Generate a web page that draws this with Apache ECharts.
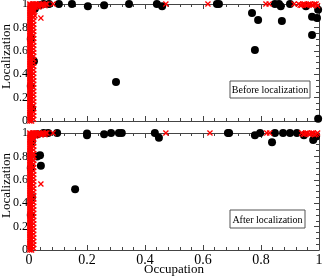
<!DOCTYPE html>
<html><head><meta charset="utf-8">
<script src="https://cdn.jsdelivr.net/npm/echarts@6/dist/echarts.min.js"></script>
<style>html,body{margin:0;padding:0;background:#fff}#c{width:323px;height:276px}</style>
</head><body><div id="c"></div>
<script>
// ---- data ----
const xTicks = ["0","0.2","0.4","0.6","0.8","1"];
const yTicks = ["0","0.2","0.4","0.6","0.8","1"];
const panelLabels = ["Before localization","After localization"];
const xTitle = "Occupation";
const yTitle = "Localization";

const beforeBlack = [
  [0.069,1],[0.103,1],[0.148,1],[0.203,0.98],[0.259,0.99],[0.345,1],[0.441,1],[0.459,0.98],
  [0.648,1],[0.655,1],[0.769,0.923],[0.79,0.863],[0.779,0.607],[0.848,1],[0.862,1],[0.868,0.98],
  [0.872,0.855],[0.90,1],[0.955,0.98],[0.976,0.89],[0.993,0.88],[0.997,0.95],[0.976,0.735],[0.997,0.02],
  [0.017,0.51],[0.30,0.333],[0.01,0.11],[0.02,0.96],[0.036,0.99],[0.05,1],[0.006,0.3],[0.006,0.7]
];
// dense band of red crosses along occupation ~ 0 (shared y readings, three columns)
const bandY = [0.00,0.015,0.03,0.045,0.06,0.075,0.09,0.105,0.12,0.135,0.15,0.165,0.18,0.195,0.21,0.225,0.24,0.255,0.27,0.285,0.30,0.315,0.33,0.345,0.36,0.375,0.39,0.405,0.42,0.435,0.45,0.465,0.48,0.495,0.51,0.525,0.54,0.555,0.57,0.585,0.60,0.615,0.63,0.645,0.66,0.675,0.69,0.705,0.72,0.735,0.75,0.765,0.78,0.795,0.81,0.825,0.84,0.855,0.87,0.885,0.90,0.915,0.93,0.945,0.96,0.975,0.99,1.00];
const bandX1 = 0.003, bandX2 = 0.009, bandX3 = 0.016;
const beforeRedTop = [
  [0.012,1],[0.018,0.985],[0.024,1],[0.030,0.985],[0.036,1],[0.042,0.985],[0.048,1],[0.055,0.985],[0.062,1],
  [0.015,0.995],[0.021,1],[0.027,0.995],[0.033,0.99],[0.039,0.995],[0.045,0.99],[0.051,0.995],[0.058,1],
  [0.015,0.97],[0.022,0.975],[0.028,0.98],[0.034,0.975],[0.012,0.95],[0.016,0.93],[0.02,0.90],[0.041,0.88],[0.083,1],
  [0.472,1],[0.617,1],[0.817,1],[0.828,1],[0.914,1],
  [0.93,1],[0.94,0.99],[0.95,1],[0.96,0.99],[0.97,1],[0.98,0.99],[0.99,1],[0.995,0.985],[0.945,1],[0.965,1],[0.985,1],[0.955,0.99],[0.975,0.99],[0.935,0.99]
];
const afterBlack = [
  [0.066,1],[0.097,1],[0.2,0.98],[0.2,0.995],[0.259,0.99],[0.283,1],[0.31,1],[0.32,1],[0.434,1],[0.448,0.96],
  [0.038,0.81],[0.028,0.80],[0.041,0.72],[0.159,0.52],[0.01,0.45],[0.01,0.93],[0.03,0.99],[0.05,1],
  [0.686,1],[0.69,1],[0.779,0.98],[0.797,1],[0.838,0.92],[0.848,1],[0.876,1],[0.90,1],[0.924,1],[0.948,0.98],[0.98,0.94],[0.99,0.97],
  [0.006,0.3],[0.006,0.7]
];
const afterRedTop = [
  [0.012,1],[0.018,0.985],[0.024,1],[0.030,0.985],[0.036,1],[0.042,0.985],[0.048,1],[0.055,0.985],[0.062,1],
  [0.015,0.995],[0.021,1],[0.027,0.995],[0.033,0.99],[0.039,0.995],[0.045,0.99],[0.051,0.995],[0.058,1],
  [0.015,0.97],[0.022,0.975],[0.028,0.98],[0.012,0.95],[0.016,0.8],[0.041,0.564],[0.083,1],
  [0.472,1],[0.624,1],[0.82,1],[0.83,1],
  [0.94,1],[0.95,0.99],[0.96,1],[0.97,0.99],[0.98,1],[0.99,0.99],[0.995,1],[0.955,1],[0.975,1],[0.985,0.985],[0.945,0.99],[0.965,0.99]
];

// ---- chart ----
const FONT = "Liberation Serif";
const AX = '#444';
const xSym = 'path://M0,1.5L1.5,0L5,3.5L8.5,0L10,1.5L6.5,5L10,8.5L8.5,10L5,6.5L1.5,10L0,8.5L3.5,5Z';
function band(ys, x1, x2, x3){ const out=[]; ys.forEach((y,i)=>{ out.push([x1,y]); out.push([i%2?x3:x2,y]); }); return out; }
function fmt(v){ const s = String(Math.round(v*10)/10); return xTicks.indexOf(s) >= 0 ? s : ''; }
function fmtY(v){ const s = String(Math.round(v*10)/10); return yTicks.indexOf(s) >= 0 ? s : ''; }

const grids = [
  {left:29, right:4, top:4, height:117, containLabel:false, outerBoundsMode:'none'},
  {left:29, right:4, top:133, height:117, containLabel:false, outerBoundsMode:'none'}
];
function xAx(gi, pos, labels){
  return {type:'value', gridIndex:gi, position:pos, min:0, max:1, interval:0.2,
    axisLine:{show:true, onZero:false, lineStyle:{color:AX, width:1}},
    axisTick:{show:true, inside:true, length:5, lineStyle:{color:AX}},
    minorTick:{show:true, splitNumber:5, length:3, lineStyle:{color:AX}},
    splitLine:{show:false},
    axisLabel:{show:labels, color:'#000', fontFamily:FONT, fontSize:14, margin:3, formatter:fmt},
    name: labels ? xTitle : '', nameLocation:'middle', nameGap:13, nameMoveOverlap:false,
    nameTextStyle:{color:'#000', fontFamily:FONT, fontSize:13}};
}
function yAx(gi, pos, labels){
  return {type:'value', gridIndex:gi, position:pos, min:0, max:1, interval:0.2,
    axisLine:{show:true, onZero:false, lineStyle:{color:AX, width:1}},
    axisTick:{show:true, inside:true, length:5, lineStyle:{color:AX}},
    minorTick:{show:true, splitNumber:4, length:3, lineStyle:{color:AX}},
    splitLine:{show:false},
    axisLabel:{show:labels, color:'#000', fontFamily:FONT, fontSize:12, margin:1, formatter:fmtY}};
}
function blackSeries(data, xi, yi){
  return {type:'scatter', xAxisIndex:xi, yAxisIndex:yi, data:data, symbol:'circle', symbolSize:8,
    itemStyle:{color:'#000', opacity:1}, clip:false, silent:true, z:2};
}
function redSeries(data, xi, yi){
  return {type:'scatter', xAxisIndex:xi, yAxisIndex:yi, data:data, symbol:xSym, symbolSize:6,
    itemStyle:{color:'#ff0000', opacity:1}, clip:false, silent:true, z:3, large:false};
}
function box(x, y, w, h, text){
  return {type:'group', left:x, top:y, children:[
    {type:'rect', shape:{x:0,y:0,width:w,height:h}, style:{fill:'#fff', stroke:'#555', lineWidth:1}},
    {type:'text', x:w/2, y:h/2+1, style:{text:text, fill:'#000', font:'10px "Liberation Serif"', textAlign:'center', textVerticalAlign:'middle'}}
  ], z:10};
}
function yName(cy){
  return {type:'text', left:0, top:cy-38, rotation:Math.PI/2,
    style:{text:yTitle, fill:'#000', font:'13px "Liberation Serif"'}, z:10};
}

const chart = echarts.init(document.getElementById('c'), null, {renderer:'canvas'});
chart.setOption({
  animation:false,
  backgroundColor:'#fff',
  grid: grids,
  xAxis:[xAx(0,'bottom',false), xAx(0,'top',false), xAx(1,'bottom',true), xAx(1,'top',false)],
  yAxis:[yAx(0,'left',true), yAx(0,'right',false), yAx(1,'left',true), yAx(1,'right',false)],
  series:[
    blackSeries(beforeBlack, 0, 0),
    redSeries(band(bandY, bandX1, bandX2, bandX3), 0, 0),
    redSeries(beforeRedTop, 0, 0),
    blackSeries(afterBlack, 2, 2),
    redSeries(band(bandY, bandX1, bandX2, bandX3), 2, 2),
    redSeries(afterRedTop, 2, 2)
  ],
  graphic:[ box(229.5, 80.5, 80, 17, panelLabels[0]), box(229.5, 209.5, 75, 18, panelLabels[1]),
            yName(62), yName(191) ]
});
</script></body></html>
